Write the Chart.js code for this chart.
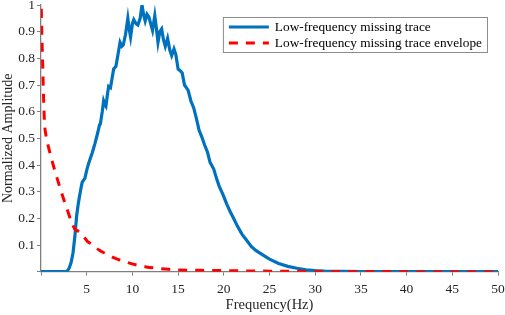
<!DOCTYPE html>
<html>
<head>
<meta charset="utf-8">
<script src="https://cdn.jsdelivr.net/npm/chart.js@4/dist/chart.umd.min.js"></script>
<style>
  html, body { margin: 0; padding: 0; background: #fff; }
  #wrap { width: 505px; height: 315px; }
</style>
</head>
<body>
<div id="wrap"><canvas id="chart"></canvas></div>
<script>
// blue trace spectrum
const traceFreq = [0, 2.7, 2.9, 3.1, 3.3, 3.5, 3.7, 3.9, 4.1, 4.3, 4.5, 4.7, 4.8, 5.0, 5.2, 5.4, 5.6, 5.9, 6.2, 6.4, 6.5, 6.7, 6.85, 7.0, 7.1, 7.25, 7.4, 7.6, 7.8, 7.95, 8.2, 8.4, 8.65, 8.85, 9.0, 9.25, 9.5, 9.65, 9.8, 10.0, 10.15, 10.4, 10.6, 10.85, 11.05, 11.25, 11.4, 11.6, 11.8, 12.0, 12.2, 12.45, 12.6, 12.8, 13.0, 13.2, 13.4, 13.6, 13.85, 14.1, 14.3, 14.55, 14.75, 15.0, 15.2, 15.45, 15.7, 15.9, 16.1, 16.4, 16.7, 17.0, 17.3, 17.6, 17.9, 18.2, 18.5, 18.9, 19.2, 19.5, 19.9, 20.3, 20.7, 21.0, 21.5, 22.0, 22.5, 23.0, 23.5, 24.3, 25.0, 26.0, 27.0, 28.0, 29.0, 30.0, 31.0, 33.0, 35.0, 50];
const traceAmp = [0, 0, 0.003, 0.015, 0.035, 0.07, 0.13, 0.21, 0.26, 0.30, 0.335, 0.345, 0.35, 0.38, 0.405, 0.425, 0.445, 0.48, 0.52, 0.55, 0.555, 0.60, 0.64, 0.625, 0.62, 0.66, 0.695, 0.69, 0.73, 0.76, 0.77, 0.81, 0.86, 0.845, 0.85, 0.89, 0.95, 0.91, 0.88, 0.93, 0.945, 0.93, 0.925, 0.95, 1.0, 0.96, 0.94, 0.965, 0.955, 0.93, 0.905, 0.96, 0.92, 0.86, 0.90, 0.91, 0.87, 0.845, 0.875, 0.83, 0.81, 0.835, 0.815, 0.76, 0.755, 0.745, 0.70, 0.69, 0.68, 0.64, 0.615, 0.575, 0.53, 0.505, 0.475, 0.45, 0.41, 0.385, 0.35, 0.32, 0.29, 0.255, 0.225, 0.205, 0.17, 0.14, 0.118, 0.095, 0.08, 0.062, 0.047, 0.031, 0.02, 0.013, 0.007, 0.004, 0.002, 0.001, 0, 0];

// red dashed envelope
const envFreq = [0, 0.03, 0.1, 0.2, 0.3, 0.4, 0.5, 0.8, 1.1, 1.5, 1.9, 2.4, 2.8, 3.3, 3.7, 3.9, 4.3, 4.7, 5.1, 5.5, 6.0, 6.5, 7.0, 7.5, 8.0, 8.6, 9.5, 10.5, 11.5, 12.7, 14.0, 15.2, 17.5, 20, 25, 30, 35, 50];
const envAmp = [1.05, 0.99, 0.88, 0.76, 0.63, 0.55, 0.52, 0.47, 0.43, 0.38, 0.335, 0.28, 0.24, 0.19, 0.16, 0.155, 0.148, 0.13, 0.113, 0.104, 0.09, 0.078, 0.069, 0.06, 0.052, 0.044, 0.034, 0.025, 0.018, 0.013, 0.009, 0.006, 0.005, 0.004, 0.002, 0.001, 0.0005, 0];

const seriesLabels = ["Low-frequency missing trace", "Low-frequency missing trace envelope"];

const serif = "'Liberation Serif', 'Times New Roman', serif";
const axisGray = "#7f7f7f";
const textColor = "#262626";

const toPoints = (xs, ys) => xs.map((x, i) => ({ x: x, y: ys[i] }));

// legend box drawn inside the plot, top right
const boxLegend = {
  id: "boxLegend",
  afterDraw(chart) {
    const ctx = chart.ctx;
    const right = chart.chartArea.right - 11;
    const top = 17;
    const rowH = 16;
    const lineLen = 40;
    ctx.save();
    ctx.font = "13.3px " + serif;
    const textW = Math.max(...chart.data.datasets.map((d) => ctx.measureText(d.label).width));
    const w = 6 + lineLen + 6 + textW + 5;
    const h = rowH * 2 + 3;
    const left = right - w;
    ctx.fillStyle = "#fff";
    ctx.fillRect(left, top, w, h);
    ctx.strokeStyle = "#8c8c8c";
    ctx.lineWidth = 1;
    ctx.strokeRect(left + 0.5, top + 0.5, w, h);
    chart.data.datasets.forEach((d, i) => {
      const cy = top + 2 + rowH * i + rowH / 2;
      ctx.beginPath();
      ctx.setLineDash(d.borderDash || []);
      ctx.strokeStyle = d.borderColor;
      ctx.lineWidth = d.borderWidth;
      ctx.moveTo(left + 6, cy);
      ctx.lineTo(left + 6 + lineLen, cy);
      ctx.stroke();
      ctx.setLineDash([]);
      ctx.fillStyle = "#000";
      ctx.textBaseline = "middle";
      ctx.fillText(d.label, left + 6 + lineLen + 6, cy + 1);
    });
    ctx.restore();
  },
};

new Chart(document.getElementById("chart"), {
  type: "line",
  data: {
    datasets: [
      {
        label: seriesLabels[0],
        data: toPoints(traceFreq, traceAmp),
        borderColor: "#0072BD",
        borderWidth: 3.2,
        pointRadius: 0,
        tension: 0,
        order: 2,
      },
      {
        label: seriesLabels[1],
        data: toPoints(envFreq, envAmp),
        borderColor: "#FF0000",
        borderWidth: 3,
        borderDash: [9, 8],
        pointRadius: 0,
        cubicInterpolationMode: "monotone",
        order: 1,
      },
    ],
  },
  options: {
    responsive: true,
    maintainAspectRatio: false,
    animation: false,
    layout: { padding: { top: 5, right: 7, bottom: 0, left: 0 } },
    plugins: {
      legend: { display: false },
      tooltip: { enabled: false },
    },
    scales: {
      x: {
        type: "linear",
        min: 0,
        max: 50,
        border: { color: axisGray, width: 1.3 },
        grid: { drawOnChartArea: false, drawTicks: true, tickLength: 4, color: axisGray },
        ticks: {
          stepSize: 5,
          padding: 6,
          color: textColor,
          font: { family: serif, size: 13.5 },
          callback: (v) => (v === 0 ? "" : v),
          maxRotation: 0,
        },
        title: {
          display: true,
          text: "Frequency(Hz)",
          color: textColor,
          font: { family: serif, size: 14.5 },
          padding: { top: 0, bottom: 1 },
        },
        afterFit: (scale) => {
          scale.height = 43.3;
          scale.paddingLeft = 0;
          scale.paddingRight = 0;
        },
      },
      y: {
        min: 0,
        max: 1,
        border: { color: axisGray, width: 1.3 },
        grid: { drawOnChartArea: false, drawTicks: true, tickLength: 4, color: axisGray },
        ticks: {
          stepSize: 0.1,
          padding: 2,
          color: textColor,
          font: { family: serif, size: 13.5 },
          callback: (v) => (v === 0 ? "" : Math.round(v * 10) / 10),
        },
        title: {
          display: true,
          text: "Normalized Amplitude",
          color: textColor,
          font: { family: serif, size: 14 },
          padding: { top: 0, bottom: 0 },
        },
        afterFit: (scale) => {
          scale.width = 41;
          scale.paddingTop = 0;
          scale.paddingBottom = 0;
        },
      },
    },
  },
  plugins: [boxLegend],
});
</script>
</body>
</html>
